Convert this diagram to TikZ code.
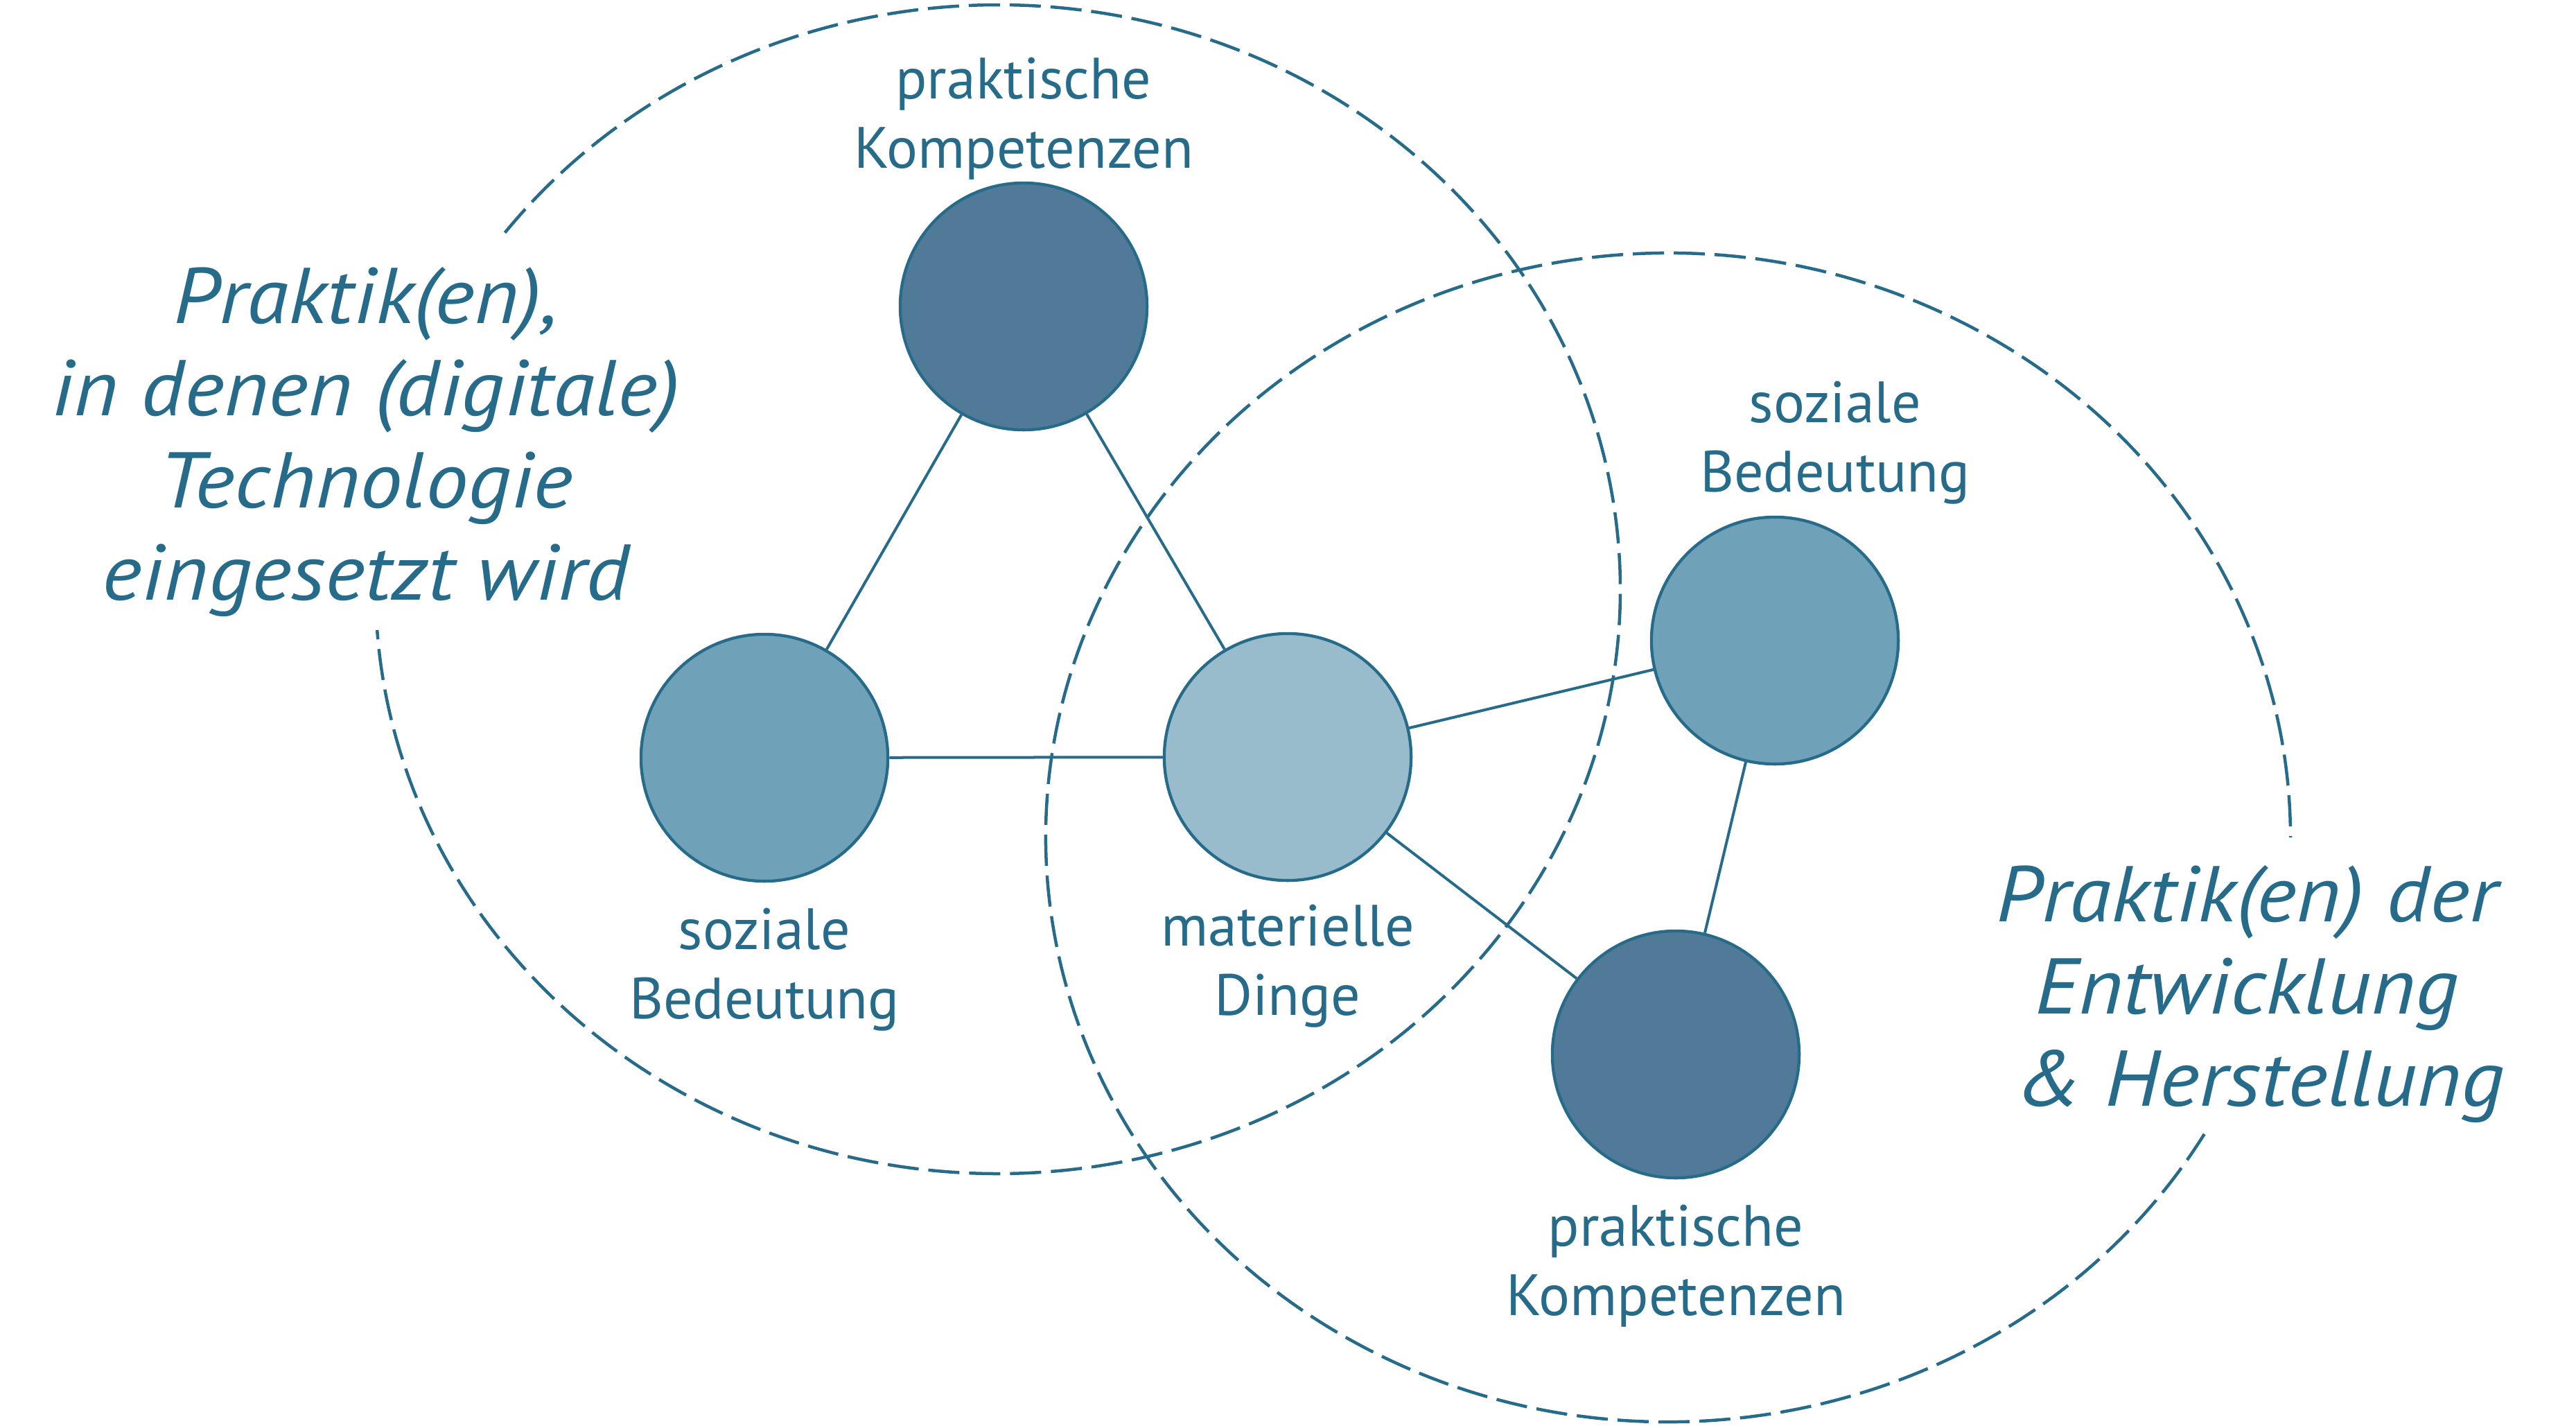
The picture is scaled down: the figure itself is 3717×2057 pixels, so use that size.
\documentclass[tikz,border=0pt]{standalone}
\usepackage{fontspec}
\setmainfont{PT Sans}
\newfontfamily\ttlfont[FakeStretch=1.08]{PT Sans}
\definecolor{ink}{HTML}{276B8A}
\definecolor{cDark}{HTML}{517A99}
\definecolor{cMid}{HTML}{6FA1B8}
\definecolor{cLight}{HTML}{99BCCC}
\begin{document}
\begin{tikzpicture}[x=0.01cm,y=-0.01cm,
  ball/.style={circle, draw=ink, line width=0.043cm, minimum size=3.56cm, inner sep=0pt},
  link/.style={draw=ink, line width=0.04cm},
  ring/.style={draw=ink, line width=0.045cm, dash pattern=on 0.45cm off 0.14cm},
  lbl/.style={text=ink, align=center, font=\fontsize{23.9}{28.2}\selectfont, anchor=base, inner sep=0pt},
  ttl/.style={text=ink, align=center, font=\ttlfont\fontsize{32.4}{37.8}\selectfont\itshape, anchor=base, inner sep=0pt}]
\useasboundingbox (0,0) rectangle (3717,2057);
% dashed practice ellipses
\coordinate (LE) at (1440,850);
\coordinate (RE) at (2407,1208);
\draw[ring] (LE) ++(217.6:898 and 843) arc[start angle=217.6, end angle=536, x radius=898, y radius=843];
\draw[ring] (RE) ++(30.5:898 and 843) arc[start angle=30.5, end angle=360, x radius=898, y radius=843];
% elements
\node[ball, fill=cDark]  (A) at (1477,442) {};
\node[ball, fill=cMid]   (B) at (1103,1093) {};
\node[ball, fill=cLight] (C) at (1858,1092) {};
\node[ball, fill=cMid]   (D) at (2561,924) {};
\node[ball, fill=cDark]  (E) at (2418,1521) {};
\draw[link] (A) -- (B);
\draw[link] (A) -- (C);
\draw[link] (B) -- (C);
\draw[link] (C) -- (D);
\draw[link] (C) -- (E);
\draw[link] (D) -- (E);
% labels (anchor = baseline of last line)
\node[lbl] (tA) at (1477,242) {praktische\\Kompetenzen};
\node[lbl] (tB) at (1103,1469) {soziale\\Bedeutung};
\node[lbl] (tC) at (1858,1464) {materielle\\Dinge};
\node[lbl] (tD) at (2648,709) {soziale\\Bedeutung};
\node[lbl] (tE) at (2418,1897) {praktische\\Kompetenzen};
\node[ttl] (tL) at (528,865) {Praktik(en),\\in denen (digitale)\\Technologie\\eingesetzt wird};
\node[ttl] (tR) at (3242,1595) {Praktik(en) der\\Entwicklung\\\hspace{0.35em}\& Herstellung};
\end{tikzpicture}
\end{document}
